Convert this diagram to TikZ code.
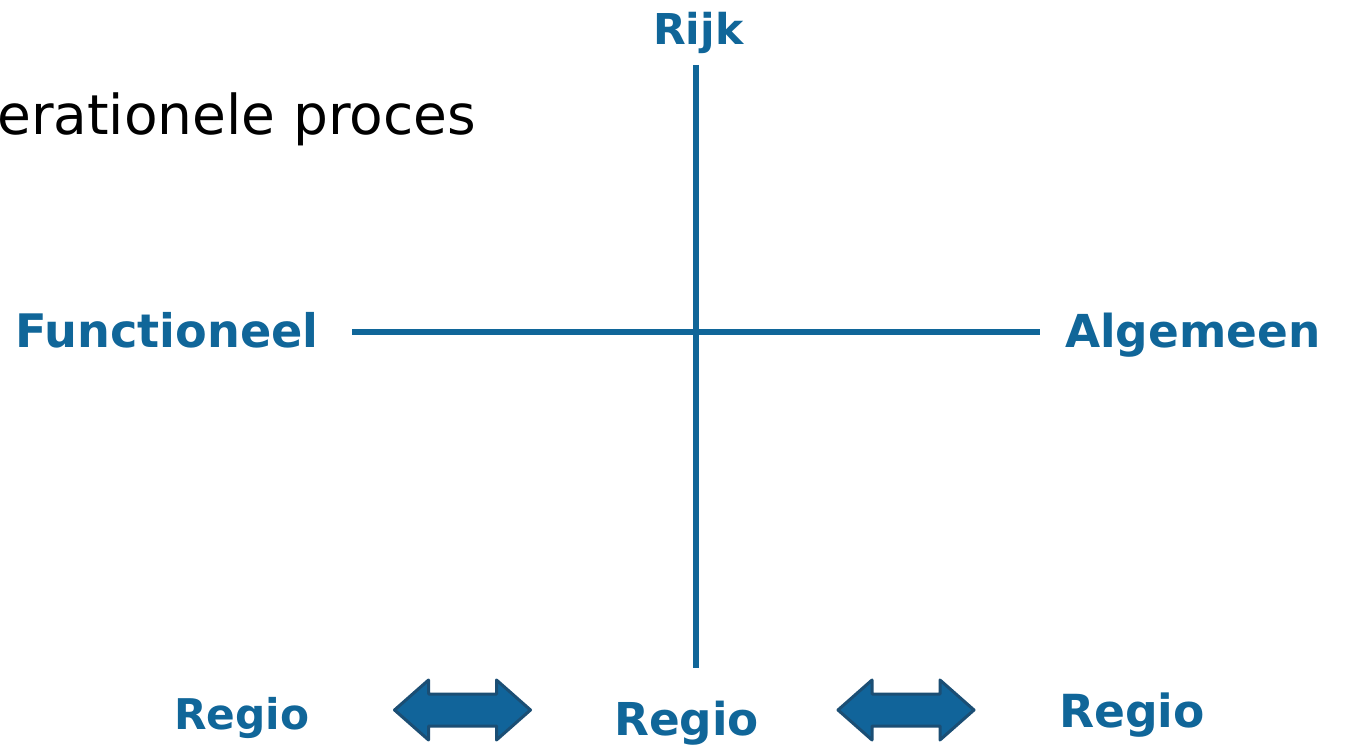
\documentclass[tikz,border=0pt]{standalone}
\usepackage{fontspec}
\setmainfont{DejaVu Sans}
\definecolor{axisblue}{HTML}{106699}
\definecolor{arrowfill}{HTML}{11649A}
\definecolor{arrowedge}{HTML}{1B4E74}
\tikzset{
  lbl/.style={inner sep=0pt, anchor=base west, text=axisblue, font=\bfseries},
  axis/.style={draw=axisblue, line width=6pt},
  dbl/.pic={
    \filldraw[fill=arrowfill, draw=arrowedge, line width=3pt, line join=round]
      (-68,0) -- (-34,30) -- (-34,16) -- (34,16) -- (34,30) -- (68,0)
      -- (34,-30) -- (34,-16) -- (-34,-16) -- (-34,-30) -- cycle;
  }
}
\begin{document}
\begin{tikzpicture}[x=1pt,y=1pt]
\useasboundingbox[fill=white] (0,0) rectangle (1345,745);
% title fragment
\node[inner sep=0pt, anchor=base west, font=\fontsize{55}{66}\selectfont] (title) at (-3,610) {erationele proces};
% axis labels
\node[lbl, font=\bfseries\fontsize{42.5}{51}\selectfont] (rijk) at (653,700) {Rijk};
\node[lbl, font=\bfseries\fontsize{46.2}{55}\selectfont] (func) at (15,397) {Functioneel};
\node[lbl, font=\bfseries\fontsize{45.4}{54}\selectfont] (alg) at (1065,397) {Algemeen};
\node[lbl, font=\bfseries\fontsize{42.3}{51}\selectfont] (regL) at (174,16) {Regio};
\node[lbl, font=\bfseries\fontsize{45.3}{54}\selectfont] (regM) at (614,10) {Regio};
\node[lbl, font=\bfseries\fontsize{45.6}{55}\selectfont] (regR) at (1059,18) {Regio};
% axes
\coordinate (vtop) at (696,680);
\coordinate (vbot) at (696,77);
\coordinate (hleft) at (352,413);
\coordinate (hright) at (1040,413);
\draw[axis] (vtop) -- (vbot);
\draw[axis] (hleft) -- (hright);
% double arrows
\pic at (462.5,35) {dbl};
\pic at (906,35) {dbl};
\end{tikzpicture}
\end{document}
